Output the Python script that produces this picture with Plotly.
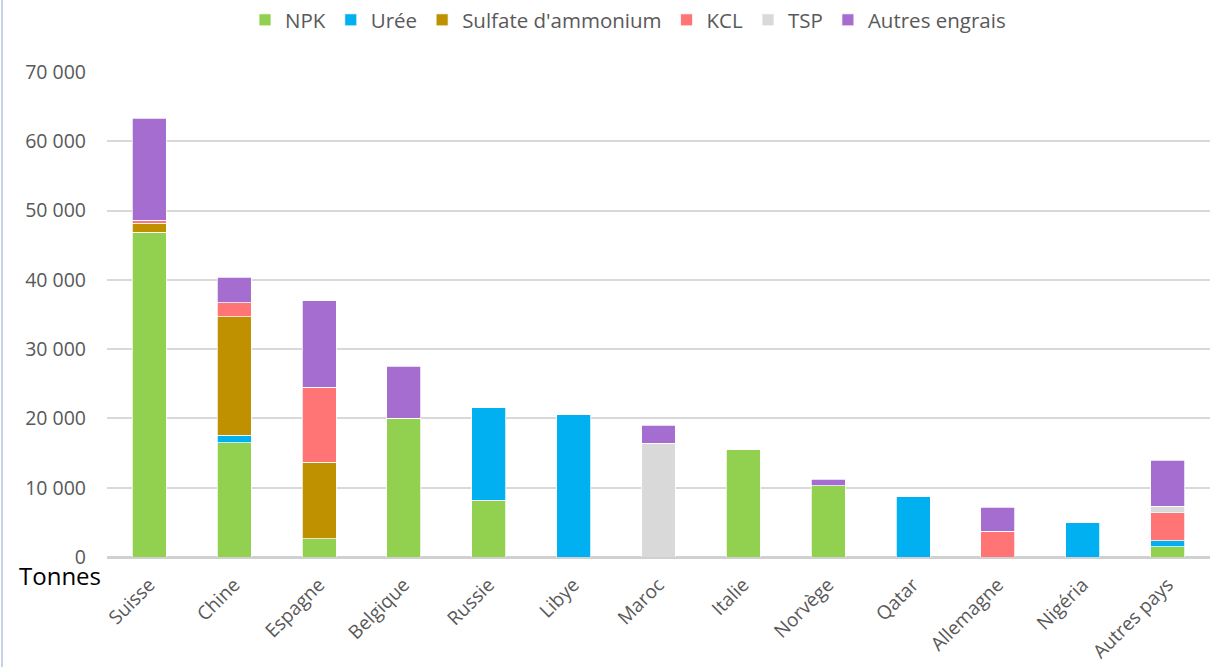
import plotly.graph_objects as go

countries = ["Suisse", "Chine", "Espagne", "Belgique", "Russie", "Libye", "Maroc",
             "Italie", "Norvège", "Qatar", "Allemagne", "Nigéria", "Autres pays"]

npk     = [46900, 16500, 2600, 20000, 8200, 0, 0, 15450, 10300, 0, 0, 0, 1500]
uree    = [0, 1100, 0, 0, 13400, 20600, 0, 0, 0, 8700, 0, 4950, 850]
sulfate = [1300, 17100, 11050, 0, 0, 0, 0, 0, 0, 0, 0, 0, 0]
kcl     = [400, 2000, 10850, 0, 0, 0, 0, 0, 0, 0, 3750, 0, 4050]
tsp     = [0, 0, 0, 0, 0, 0, 16450, 0, 0, 0, 0, 0, 950]
autres  = [14700, 3650, 12450, 7500, 0, 0, 2550, 0, 950, 0, 3400, 0, 6600]

series = [
    ("NPK", npk, "#92d050"),
    ("Urée", uree, "#00b0f0"),
    ("Sulfate d'ammonium", sulfate, "#bf9000"),
    ("KCL", kcl, "#ff7575"),
    ("TSP", tsp, "#d9d9d9"),
    ("Autres engrais", autres, "#a66dd1"),
]

yticks = [0, 10000, 20000, 30000, 40000, 50000, 60000, 70000]
yticklabels = ["0", "10 000", "20 000", "30 000", "40 000", "50 000", "60 000", "70 000"]

fig = go.Figure()
for name, vals, color in series:
    fig.add_trace(go.Bar(
        name=name, x=countries, y=vals,
        marker=dict(color=color, line=dict(color="white", width=0.75)),
    ))

L, R, T, B = 107, 0, 72, 110
W, H = 1210, 667
plot_w = W - L - R
plot_h = H - T - B
FONT = "Open Sans, Lato, sans-serif"

fig.update_layout(
    barmode="stack",
    bargap=0.6,
    width=W, height=H,
    margin=dict(l=L, r=R, t=T, b=B, autoexpand=False),
    paper_bgcolor="white",
    plot_bgcolor="white",
    font=dict(family=FONT, color="#595959", size=18),
    legend=dict(
        orientation="h", x=(628 - L) / plot_w, xanchor="center",
        y=(H - 20) / H, yref="container", yanchor="middle",
        font=dict(size=20.5, color="#595959", family=FONT),
        traceorder="normal", itemwidth=30,
    ),
    xaxis=dict(
        tickangle=-45, showgrid=False, showline=False, ticks="",
        tickfont=dict(size=19, color="#595959", family=FONT),
        ticklabelstandoff=12,
        range=[-0.5, 12.5], automargin=False,
    ),
    yaxis=dict(
        range=[0, 70000], tickvals=yticks, ticktext=yticklabels,
        showgrid=True, gridcolor="#d9d9d9", gridwidth=1.5,
        zeroline=True, zerolinecolor="#d0d0d0", zerolinewidth=2.5,
        tickfont=dict(size=19.5, color="#595959", family=FONT), ticklabelstandoff=20,
        automargin=False,
    ),
    annotations=[dict(
        text="Tonnes", xref="paper", yref="paper",
        x=-(L - 17) / plot_w, xanchor="left",
        y=-18 / plot_h, yanchor="middle",
        showarrow=False, font=dict(size=24, color="#000000", family=FONT),
    )],
    shapes=[dict(
        type="line", xref="paper", yref="paper",
        x0=-(L - 2) / plot_w, x1=-(L - 2) / plot_w,
        y0=-B / plot_h, y1=1 + T / plot_h,
        line=dict(color="#b4c0dc", width=1.5),
    )],
)

fig.write_html(
    "out.html",
    config={"displayModeBar": False},
    post_script="document.body.style.margin='0';document.body.style.overflow='hidden';",
)
